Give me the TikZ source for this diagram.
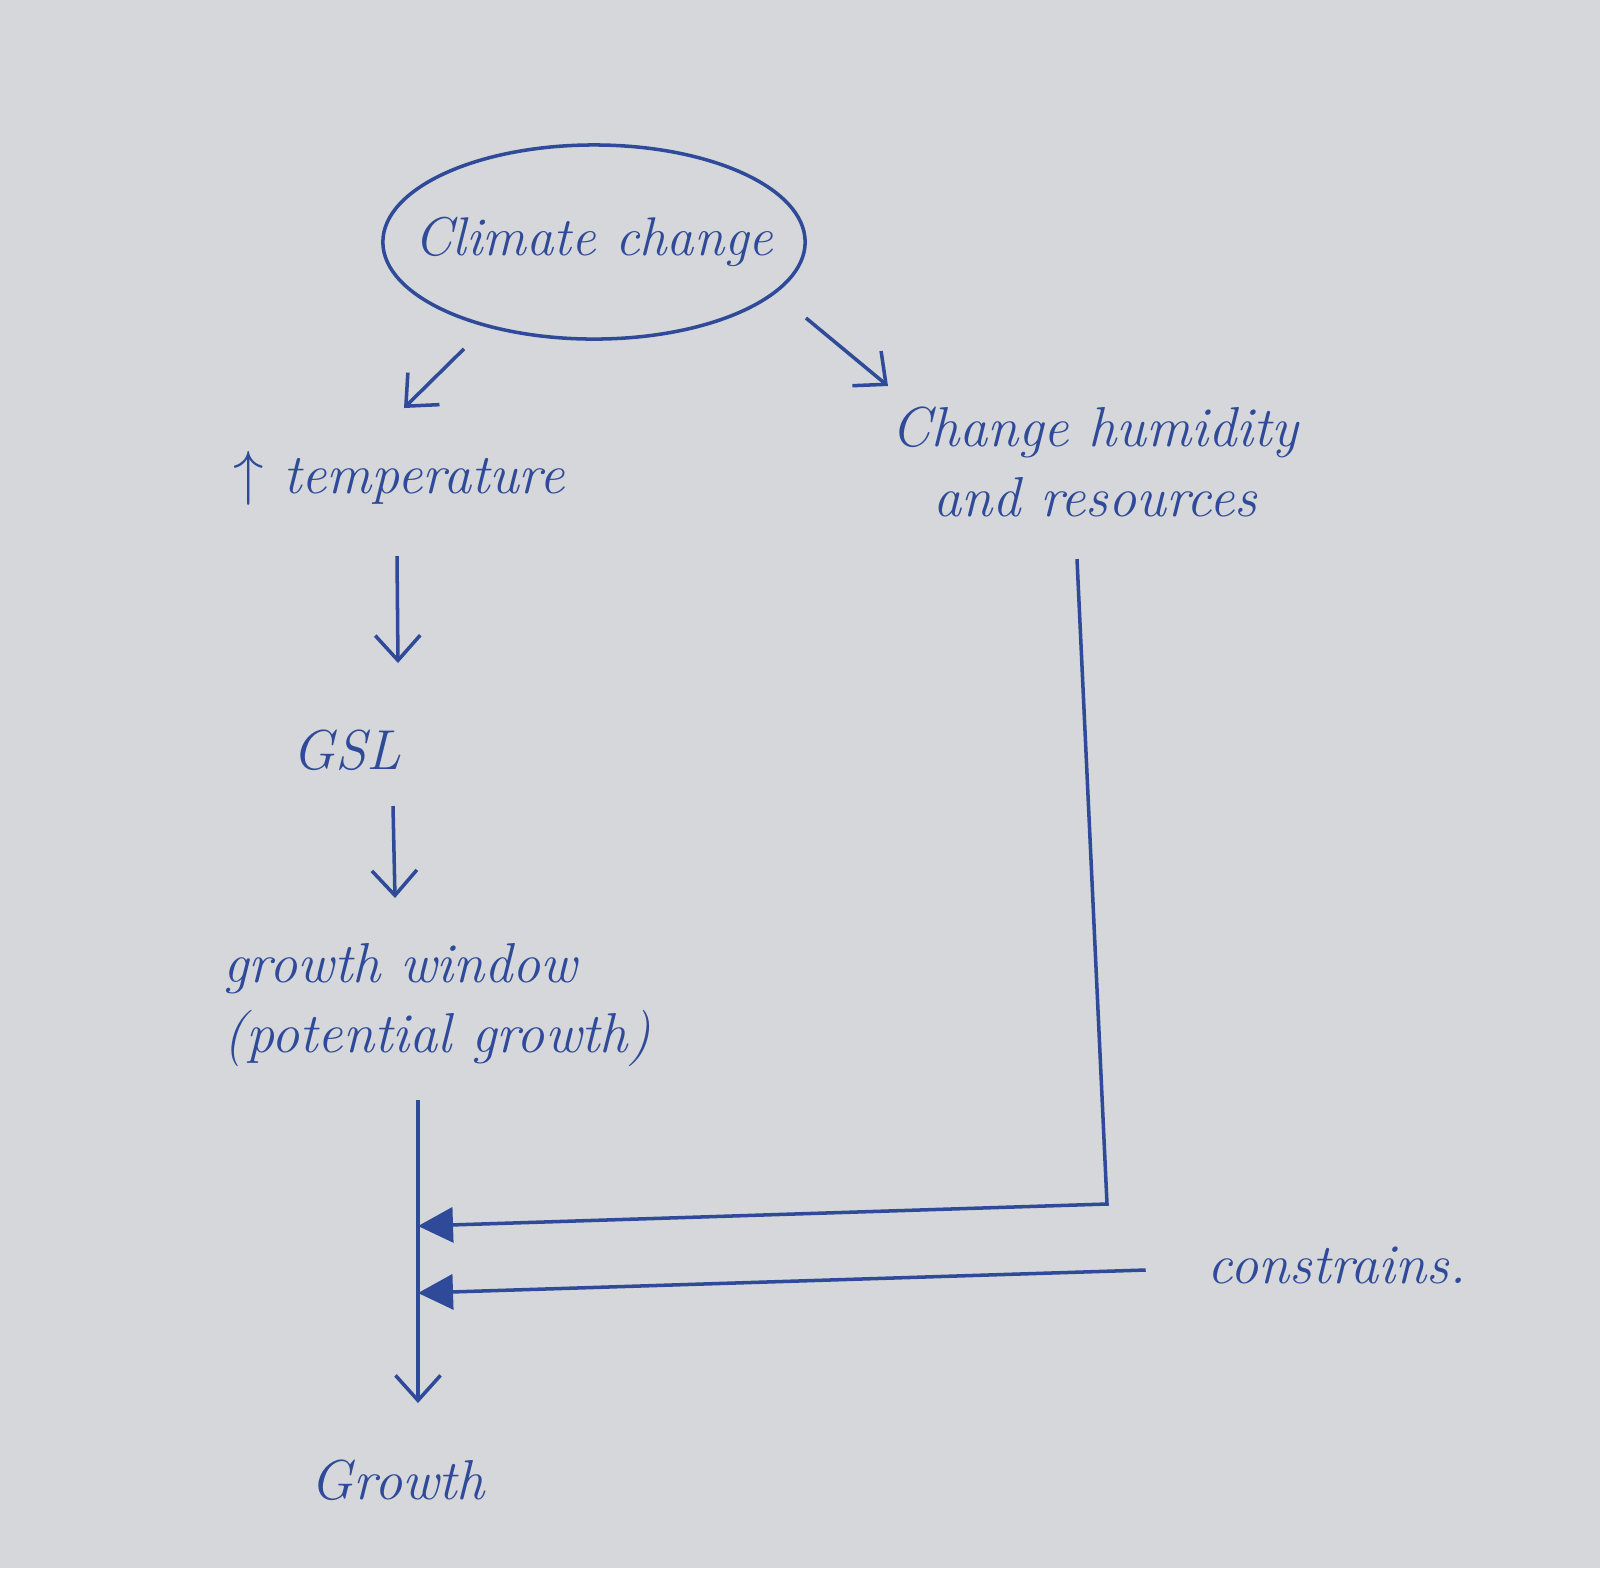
\documentclass[tikz,border=0pt]{standalone}
\usepackage{tikz}
\usetikzlibrary{positioning,shapes.geometric,arrows.meta,calc}
\definecolor{pen}{HTML}{2F4A98}
\definecolor{paper}{HTML}{D5D7DA}

\begin{document}
\begin{tikzpicture}[
  x=0.01cm, y=-0.01cm,
  font=\itshape\fontsize{16}{20}\selectfont,
  note/.style  = {text=pen, align=center, inner sep=1pt},
  cloud/.style = {ellipse, draw=pen, line width=1pt, text=pen,
                  inner xsep=-8.5pt, inner ysep=2pt,
                  minimum width=4.18cm, minimum height=1.94cm},
  flow/.style  = {-{Straight Barb[length=2.5mm,width=4.5mm]}, draw=pen, line width=1pt},
  hit/.style   = {-{Triangle[length=3.5mm,width=3.5mm]}, draw=pen, line width=1pt},
]

% ---- paper -----------------------------------------------------------
\fill[paper] (0,0) rectangle (1600,1568);

% ---- cause and the two branches --------------------------------------
\node[cloud, font=\itshape\fontsize{15.5}{19}\selectfont] at (594,242) (climate) {Climate change};
\node[note]  at (399,478) (temp)    {$\uparrow$\ temperature};
\node[note]  at (1095,462) (humid)  {Change humidity\\and resources};

% ---- left chain ------------------------------------------------------
\node[note] at (347,750)  (gsl)    {GSL};
\node[note, align=left] at (437,1005) (window) {growth window\\(potential growth)};
\node[note] at (398,1480) (growth) {Growth};
\node[note] at (1337,1265) (constr) {constrains.};

% ---- edges -----------------------------------------------------------
\draw[flow] ([shift={(-130,8)}]climate.south) -- ([shift={(5,-70)}]temp.center);
\draw[flow] ([shift={(212,76)}]climate.center) -- ([shift={(-207,-76)}]humid.center);
\draw[flow] ([shift={(-2,78)}]temp.center) -- ([shift={(51,-87)}]gsl.center);
\draw[flow] ([shift={(46,56)}]gsl.center) -- ([shift={(-42,-107)}]window.center);

% the stem down to growth, hit twice from the right
\coordinate (stemtop) at ([shift={(-19,95)}]window.center);
\coordinate (stembot) at ([shift={(20,-77)}]growth.center);
\draw[flow] (stemtop) -- (stembot);

\coordinate (bend) at (1107,1204);
\coordinate (j1)   at (418,1226);
\coordinate (j2)   at (418,1293);
\draw[hit] ([shift={(-18,97)}]humid.center) -- (bend) -- (j1);
\draw[hit] ([shift={(-58,5)}]constr.west) -- (j2);

\end{tikzpicture}
\end{document}
